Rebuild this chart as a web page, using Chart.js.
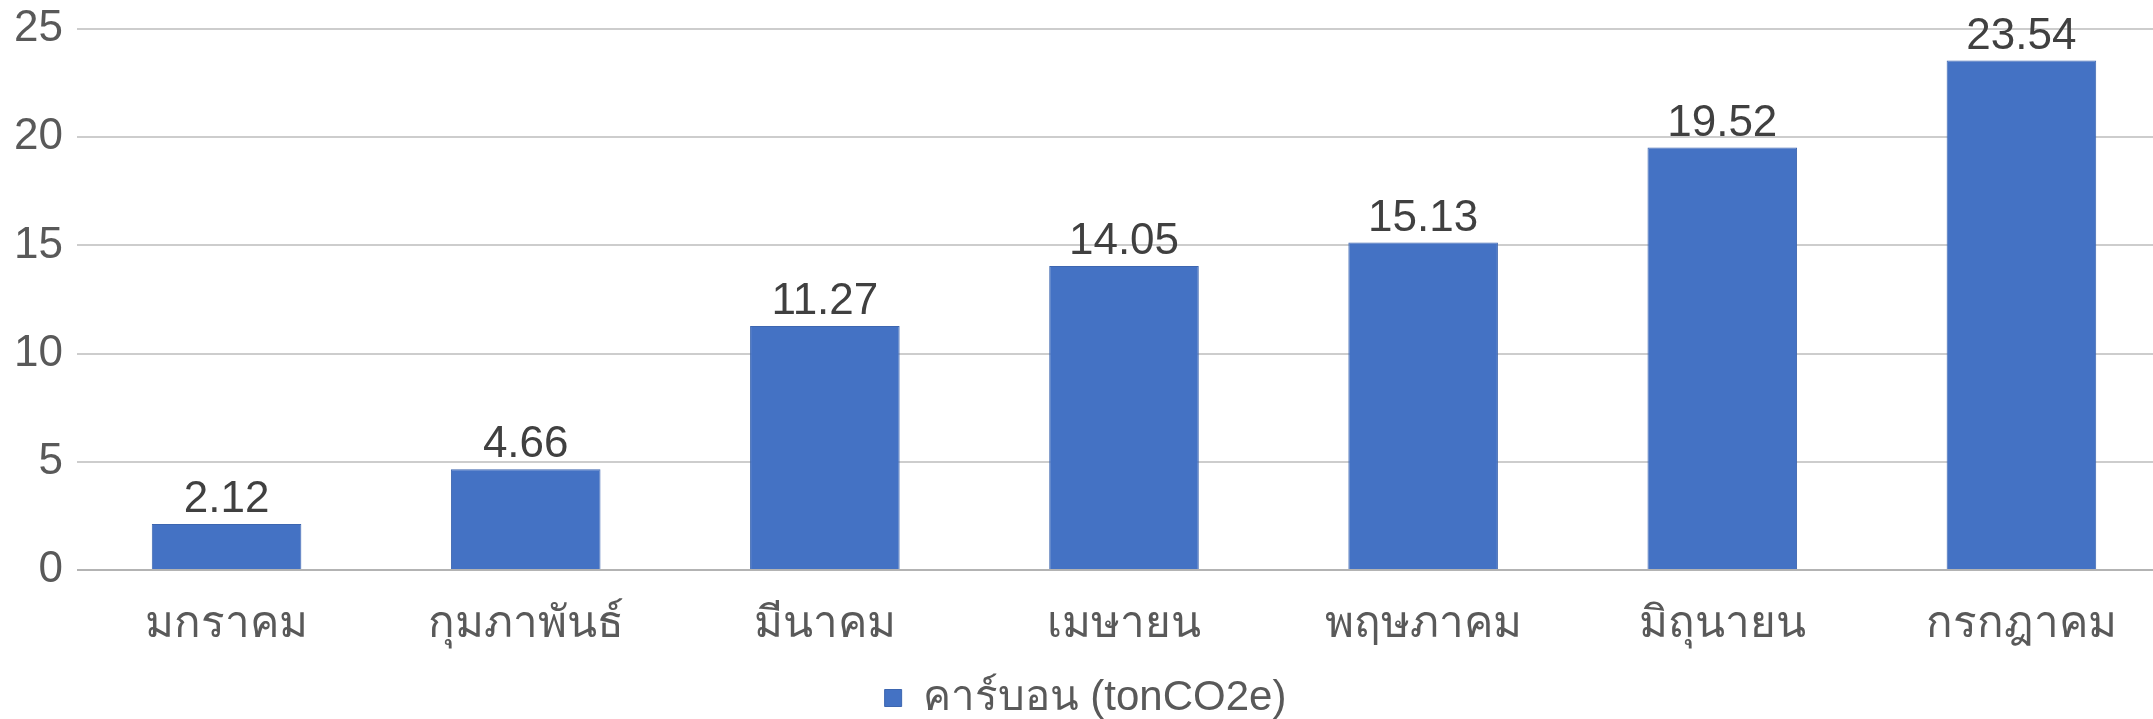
<!DOCTYPE html>
<html>
<head>
<meta charset="utf-8">
<script src="https://cdn.jsdelivr.net/npm/chart.js@4.4.0/dist/chart.umd.min.js"></script>
<style>
  html, body { margin: 0; padding: 0; background: #ffffff; overflow: hidden; }
  #wrap { width: 2153px; height: 719px; overflow: hidden; }
</style>
</head>
<body>
<div id="wrap"><canvas id="chart" width="2204" height="719"></canvas></div>
<script>
// months (Thai)
var months = ['มกราคม', 'กุมภาพันธ์', 'มีนาคม', 'เมษายน', 'พฤษภาคม', 'มิถุนายน', 'กรกฎาคม'];
// carbon emissions per month, tonCO2e
var carbon = [2.12, 4.66, 11.27, 14.05, 15.13, 19.52, 23.54];
var seriesName = 'คาร์บอน (tonCO2e)';
var yTicks = [0, 5, 10, 15, 20, 25];

var FONT = "'Liberation Sans', Arial, sans-serif";

// draws the value above each bar
var barLabels = {
    id: 'barLabels',
    afterDatasetsDraw: function (chart) {
        var ctx = chart.ctx;
        var meta = chart.getDatasetMeta(0);
        ctx.save();
        ctx.font = '44px ' + FONT;
        ctx.fillStyle = '#404040';
        ctx.textAlign = 'center';
        ctx.textBaseline = 'alphabetic';
        meta.data.forEach(function (bar, i) {
            ctx.fillText(carbon[i].toFixed(2), bar.x, bar.y - 12);
        });
        ctx.restore();
    }
};

new Chart(document.getElementById('chart'), {
    type: 'bar',
    data: {
        labels: months,
        datasets: [{
            label: seriesName,
            data: carbon,
            backgroundColor: '#4472C4',
            borderColor: '#3d66b0',
            borderWidth: 1,
            categoryPercentage: 1.0,
            barPercentage: 0.5
        }]
    },
    options: {
        responsive: false,
        devicePixelRatio: 1,
        animation: false,
        layout: { padding: { top: 29, right: 33, left: 0, bottom: -10 } },
        scales: {
            x: {
                grid: { display: false },
                border: { display: false },
                ticks: { color: '#595959', font: { family: FONT, size: 44 }, padding: 20, maxRotation: 0 },
                afterFit: function (scale) { scale.height = 97; }
            },
            y: {
                min: 0,
                max: 25,
                afterBuildTicks: function (scale) {
                    scale.ticks = yTicks.map(function (v) { return { value: v }; });
                },
                grid: {
                    drawTicks: false,
                    lineWidth: 2,
                    color: function (c) { return c.tick && c.tick.value === 0 ? '#b3b3b3' : '#cdcdcd'; }
                },
                border: { display: false },
                // small lineHeight so the top label does not push the plot down
                ticks: { color: '#595959', font: { family: FONT, size: 44, lineHeight: 0.6 }, padding: 14 },
                afterFit: function (scale) { scale.width = 77; }
            }
        },
        plugins: {
            legend: {
                position: 'bottom',
                labels: {
                    color: '#595959',
                    font: { family: FONT, size: 42 },
                    boxWidth: 17,
                    boxHeight: 17,
                    padding: 10
                }
            },
            tooltip: { enabled: false }
        }
    },
    plugins: [barLabels]
});
</script>
</body>
</html>
